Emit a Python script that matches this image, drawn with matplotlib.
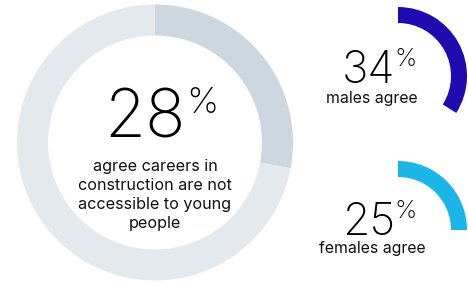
import matplotlib
matplotlib.use('Agg')
import matplotlib.pyplot as plt

plt.rcParams['font.family'] = ['Inter', 'DejaVu Sans']

# values
main_value = 28
main_lines = ['agree careers in', 'construction are not', 'accessible to young', 'people']
group_values = [34, 25]
group_labels = ['males agree', 'females agree']

W, H = 468, 286

fig = plt.figure(figsize=(W / 100, H / 100), dpi=100)
ax = fig.add_axes([0, 0, 1, 1])


def Y(y):
  # picture rows go down, the axes go up
  return H - y


# big donut
ax.pie([main_value, 100 - main_value], colors=['#cdd7e0', '#e4e9ee'],
       startangle=90, counterclock=False, radius=138, center=(155, Y(142.5)),
       wedgeprops=dict(width=31, linewidth=0))

ax.text(186, Y(137), str(main_value), fontsize=48, fontweight='light',
        ha='right', va='baseline', color='black')
ax.text(186, Y(87), '%', fontsize=26, fontweight='light', ha='left', va='top', color='black')
for i, line in enumerate(main_lines):
  ax.text(155, Y(166 + i * 19.3), line, fontsize=11.6, ha='center', va='center', color='#111111')

# small arcs
arc_colors = ['#1f0bb0', '#1bb5e8']
arc_centers = [(398, 76), (398, 230)]
num_base = [83, 235]
lab_y = [98, 248]
for v, lab, col, c, nb, ly in zip(group_values, group_labels, arc_colors, arc_centers, num_base, lab_y):
  ax.pie([v, 100 - v], colors=[col, 'none'], startangle=90, counterclock=False,
         radius=69, center=(c[0], Y(c[1])), wedgeprops=dict(width=16, linewidth=0))
  ax.text(395, Y(nb), str(v), fontsize=32, fontweight='light',
          ha='right', va='baseline', color='black')
  ax.text(394, Y(nb - 35), '%', fontsize=18, fontweight='light', ha='left', va='top', color='black')
  ax.text(372, Y(ly), lab, fontsize=11.4, ha='center', va='center', color='#111111')

ax.set_xlim(0, W)
ax.set_ylim(0, H)
ax.set_aspect('equal')
ax.axis('off')

fig.savefig('out.png', dpi=100)
